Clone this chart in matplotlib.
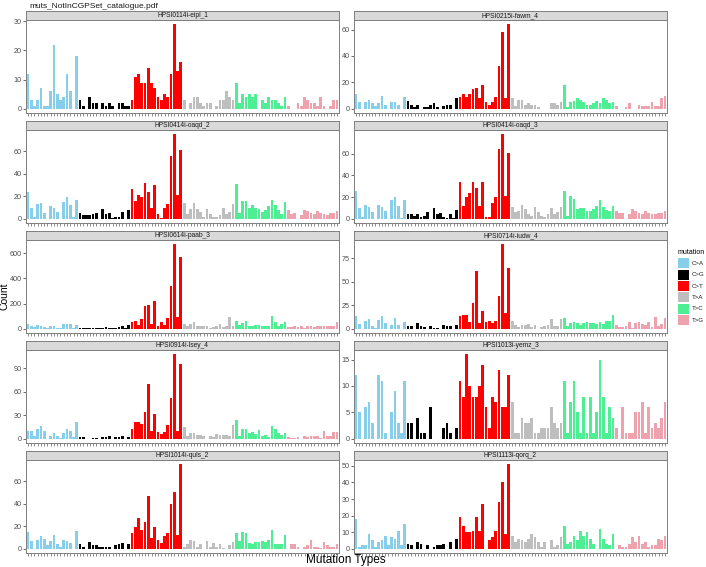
import matplotlib.pyplot as plt
import numpy as np

plt.rcParams['font.family'] = ['Liberation Sans', 'DejaVu Sans']

W, H = 706, 567

mut_types = ['C>A', 'C>G', 'C>T', 'T>A', 'T>C', 'T>G']
mut_colors = ['#87CEEB', '#000000', '#FF0000', '#BEBEBE', '#4EEE94', '#EEA2AD']

samples = ['HPSI0114i-eipl_1', 'HPSI0215i-fawm_4', 'HPSI0414i-oaqd_2', 'HPSI0414i-oaqd_3',
           'HPSI0614i-paab_3', 'HPSI0714i-iudw_4', 'HPSI0914i-lsey_4', 'HPSI1013i-yemz_3',
           'HPSI1014i-quls_2', 'HPSI1113i-qorq_2']

# counts per sample, 16 contexts for each of the 6 mutation types
eipl_1 = [12, 3, 1, 3, 7, 1, 1, 6, 22, 5, 3, 4, 12, 6, 0, 18,
          3, 1, 0, 4, 2, 2, 0, 2, 1, 2, 1, 0, 2, 2, 1, 1,
          3, 11, 12, 9, 9, 14, 9, 7, 4, 3, 5, 4, 12, 29, 13, 16,
          3, 0, 2, 4, 4, 2, 1, 2, 2, 0, 1, 3, 3, 6, 4, 3,
          9, 2, 5, 4, 5, 4, 5, 0, 3, 2, 4, 3, 3, 2, 1, 4,
          1, 0, 0, 2, 1, 4, 3, 2, 2, 1, 4, 1, 0, 1, 3, 3]
fawm_4 = [11, 5, 0, 5, 7, 4, 2, 4, 10, 3, 0, 5, 5, 3, 0, 9,
          6, 3, 1, 3, 0, 1, 1, 3, 4, 1, 0, 2, 3, 3, 0, 8,
          9, 11, 9, 11, 15, 16, 8, 18, 5, 3, 5, 9, 32, 58, 8, 64,
          8, 2, 7, 7, 3, 4, 3, 3, 1, 0, 0, 0, 4, 4, 3, 5,
          18, 1, 5, 6, 8, 7, 5, 3, 3, 4, 6, 4, 8, 7, 4, 5,
          2, 0, 0, 1, 4, 0, 0, 3, 2, 2, 2, 5, 2, 2, 8, 10]
oaqd_2 = [24, 10, 2, 13, 14, 5, 0, 11, 10, 6, 0, 15, 19, 12, 2, 17,
          5, 3, 3, 3, 4, 5, 0, 9, 4, 5, 1, 2, 2, 6, 0, 8,
          26, 16, 21, 19, 32, 24, 10, 30, 4, 1, 10, 13, 56, 75, 21, 61,
          14, 4, 9, 14, 9, 6, 2, 9, 4, 2, 2, 3, 10, 4, 6, 13,
          31, 5, 16, 16, 10, 12, 10, 9, 6, 8, 11, 17, 12, 8, 4, 15,
          8, 4, 5, 0, 3, 8, 7, 5, 4, 7, 5, 4, 3, 5, 5, 7]
oaqd_3 = [26, 10, 2, 13, 11, 6, 0, 13, 11, 7, 0, 17, 20, 12, 1, 17,
          4, 4, 3, 4, 2, 3, 6, 0, 10, 4, 5, 2, 1, 4, 1, 8,
          34, 12, 20, 24, 34, 28, 12, 34, 2, 2, 15, 20, 64, 78, 21, 61,
          11, 6, 7, 13, 9, 4, 3, 11, 6, 3, 2, 4, 10, 4, 6, 11,
          26, 3, 21, 18, 9, 10, 10, 7, 7, 9, 12, 17, 11, 8, 7, 12,
          7, 5, 5, 0, 4, 9, 7, 5, 4, 7, 5, 4, 4, 5, 5, 7]
paab_3 = [35, 25, 15, 30, 25, 15, 10, 25, 20, 10, 5, 35, 35, 35, 5, 30,
          10, 10, 5, 10, 10, 5, 10, 5, 15, 5, 10, 5, 15, 20, 10, 30,
          50, 65, 30, 75, 180, 185, 35, 220, 20, 50, 30, 85, 340, 670, 90, 570,
          35, 20, 40, 55, 25, 25, 20, 20, 10, 15, 20, 40, 15, 20, 90, 20,
          60, 30, 45, 65, 25, 25, 30, 30, 25, 25, 20, 100, 50, 25, 35, 50,
          15, 15, 20, 15, 25, 10, 25, 20, 15, 20, 20, 20, 25, 25, 20, 50]
iudw_4 = [14, 5, 0, 8, 10, 3, 1, 9, 14, 6, 0, 4, 11, 4, 0, 7,
          3, 3, 0, 6, 3, 2, 0, 3, 1, 1, 0, 4, 3, 3, 0, 4,
          14, 15, 15, 7, 27, 62, 6, 19, 7, 8, 6, 8, 35, 90, 17, 65,
          8, 4, 2, 4, 4, 5, 2, 4, 0, 2, 3, 4, 10, 3, 3, 10,
          12, 3, 6, 7, 6, 4, 6, 7, 6, 6, 5, 7, 5, 8, 8, 15,
          4, 2, 2, 3, 7, 1, 6, 7, 5, 4, 7, 2, 13, 3, 5, 11]
lsey_4 = [10, 10, 3, 12, 16, 10, 0, 4, 7, 4, 1, 7, 12, 10, 2, 21,
          2, 2, 0, 0, 1, 1, 0, 2, 2, 3, 0, 2, 2, 4, 0, 2,
          13, 22, 21, 19, 34, 70, 10, 32, 9, 6, 9, 17, 52, 108, 10, 95,
          15, 4, 8, 8, 5, 5, 3, 0, 4, 2, 6, 5, 5, 5, 4, 17,
          24, 3, 12, 13, 7, 9, 6, 11, 3, 5, 2, 16, 13, 7, 5, 7,
          2, 1, 1, 2, 0, 3, 2, 4, 4, 3, 1, 10, 3, 3, 9, 9]
yemz_3 = [12, 5, 0, 6, 7, 3, 0, 12, 11, 1, 0, 5, 9, 3, 1, 11,
          3, 3, 0, 4, 1, 1, 0, 6, 0, 0, 0, 2, 3, 1, 0, 2,
          11, 8, 16, 10, 8, 8, 10, 14, 6, 2, 8, 7, 13, 6, 6, 12,
          7, 1, 1, 4, 3, 3, 4, 1, 1, 2, 2, 2, 6, 3, 2, 3,
          11, 1, 7, 11, 5, 1, 8, 1, 8, 1, 5, 15, 8, 1, 6, 4,
          2, 0, 6, 1, 1, 1, 5, 5, 7, 1, 6, 2, 3, 2, 4, 7]
quls_2 = [15, 7, 0, 8, 11, 9, 3, 7, 12, 4, 2, 8, 7, 5, 0, 16,
          4, 2, 0, 6, 3, 3, 2, 2, 2, 2, 0, 3, 4, 5, 0, 4,
          14, 19, 27, 17, 24, 47, 10, 19, 8, 5, 11, 14, 40, 50, 12, 75,
          2, 4, 8, 7, 2, 4, 0, 7, 2, 5, 2, 4, 1, 0, 3, 6,
          14, 7, 15, 14, 5, 4, 6, 6, 7, 6, 8, 17, 4, 4, 4, 12,
          0, 4, 4, 2, 0, 2, 3, 8, 2, 2, 1, 6, 3, 2, 2, 4]
qorq_2 = [18, 1, 2, 2, 9, 5, 1, 4, 5, 8, 2, 7, 6, 11, 2, 15,
          3, 2, 0, 4, 3, 0, 2, 0, 1, 2, 2, 3, 0, 4, 0, 6,
          19, 14, 10, 10, 11, 19, 11, 27, 0, 5, 7, 11, 28, 40, 9, 51,
          8, 4, 6, 5, 4, 6, 9, 7, 4, 1, 4, 0, 5, 1, 2, 7,
          14, 3, 4, 8, 5, 11, 8, 10, 6, 3, 0, 12, 6, 3, 2, 9,
          0, 2, 1, 1, 3, 7, 4, 8, 3, 4, 1, 2, 2, 6, 5, 8]

counts = [eipl_1, fawm_4, oaqd_2, oaqd_3, paab_3, iudw_4, lsey_4, yemz_3, quls_2, qorq_2]

y_breaks = [[0, 10, 20, 30], [0, 20, 40, 60], [0, 20, 40, 60], [0, 20, 40, 60],
            [0, 200, 400, 600], [0, 25, 50, 75], [0, 30, 60, 90], [0, 5, 10, 15],
            [0, 20, 40, 60], [0, 10, 20, 30, 40, 50]]

fig = plt.figure(figsize=(W / 100, H / 100), dpi=100)

def fx(px):
    return px / W

def fy(py):
    return 1 - py / H

col_left = [26, 354]
panel_w = 313
plot_h = 93
strip_h = 9
border = '#7F7F7F'

x = np.arange(1, 97)
bar_colors = [c for c in mut_colors for _ in range(16)]

for i, name in enumerate(samples):
    row, col = divmod(i, 2)
    left = col_left[col]
    top_plot = 20 + 110 * row
    ax = fig.add_axes([fx(left), fy(top_plot + plot_h), panel_w / W, plot_h / H])
    vals = np.array(counts[i])
    ax.bar(x, vals, width=0.85, color=bar_colors, linewidth=0)
    ymax = vals.max()
    ax.set_ylim(-0.05 * ymax, 1.05 * ymax)
    ax.set_xlim(0.4, 96.6)
    ax.set_xticks(x)
    ax.set_xticklabels([])
    ax.set_yticks(y_breaks[i])
    ax.tick_params(axis='y', labelsize=5.2, labelcolor='#4D4D4D', length=2, width=0.5,
                   color='#333333', pad=1.2)
    ax.tick_params(axis='x', length=1.8, width=0.4, color='#333333')
    for s in ax.spines.values():
        s.set_color(border)
        s.set_linewidth(0.7)

    sax = fig.add_axes([fx(left), fy(top_plot), panel_w / W, strip_h / H])
    sax.set_facecolor('#D9D9D9')
    sax.set_xticks([])
    sax.set_yticks([])
    for s in sax.spines.values():
        s.set_color(border)
        s.set_linewidth(0.7)
    sax.text(0.5, 0.5, name, ha='center', va='center', fontsize=4.8, color='#1A1A1A',
             transform=sax.transAxes)

fig.text(fx(29), fy(6), 'muts_NotInCGPSet_catalogue.pdf', ha='left', va='center',
         fontsize=6, color='#1A1A1A')
fig.text(fx(346), fy(560), 'Mutation Types', ha='center', va='center', fontsize=8.5,
         color='#000000')
fig.text(fx(5), fy(296), 'Count', ha='center', va='center', rotation=90, fontsize=7.5,
         color='#000000')

# legend
fig.text(fx(678), fy(252), 'mutation', ha='left', va='center', fontsize=5, color='#000000')
for k, (lab, c) in enumerate(zip(mut_types, mut_colors)):
    yc = 263.5 + 11.3 * k
    lax = fig.add_axes([fx(678), fy(yc + 5), 11 / W, 10 / H])
    lax.set_facecolor(c)
    lax.set_xticks([])
    lax.set_yticks([])
    for s in lax.spines.values():
        s.set_visible(False)
    fig.text(fx(692), fy(yc), lab, ha='left', va='center', fontsize=4.4, color='#1A1A1A')

fig.savefig('out.png', dpi=100)
